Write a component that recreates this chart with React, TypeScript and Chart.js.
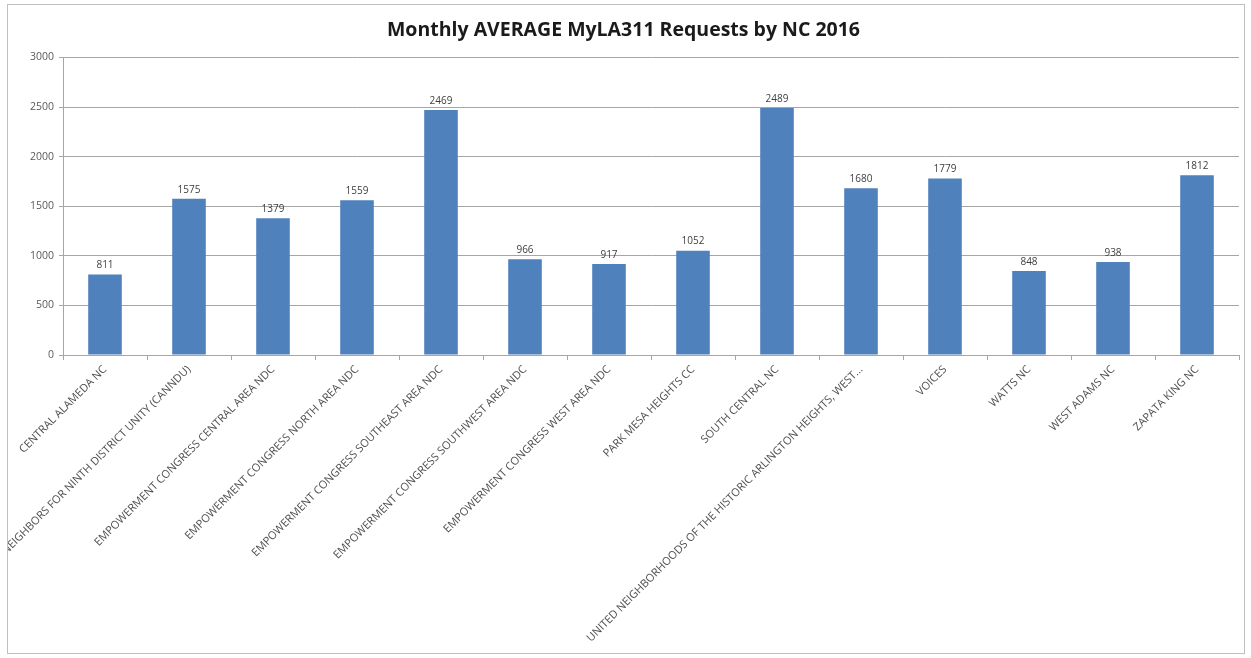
import React, { useEffect, useRef } from "react";
import { Chart, registerables } from "chart.js";

Chart.register(...registerables);

const TITLE = "Monthly AVERAGE MyLA311 Requests by NC 2016";

const categories: string[] = [
  "CENTRAL ALAMEDA NC",
  "COMMUNITY AND NEIGHBORS FOR NINTH DISTRICT UNITY (CANNDU)",
  "EMPOWERMENT CONGRESS CENTRAL AREA NDC",
  "EMPOWERMENT CONGRESS NORTH AREA NDC",
  "EMPOWERMENT CONGRESS SOUTHEAST AREA NDC",
  "EMPOWERMENT CONGRESS SOUTHWEST AREA NDC",
  "EMPOWERMENT CONGRESS WEST AREA NDC",
  "PARK MESA HEIGHTS CC",
  "SOUTH CENTRAL NC",
  "UNITED NEIGHBORHOODS OF THE HISTORIC ARLINGTON HEIGHTS, WEST...",
  "VOICES",
  "WATTS NC",
  "WEST ADAMS NC",
  "ZAPATA KING NC",
];

const averages: number[] = [811, 1575, 1379, 1559, 2469, 966, 917, 1052, 2489, 1680, 1779, 848, 938, 1812];

const yTicks: number[] = [0, 500, 1000, 1500, 2000, 2500, 3000];

const dataLabelPlugin = {
  id: "dataLabels",
  afterDatasetsDraw(chart: any) {
    const ctx = chart.ctx;
    const meta = chart.getDatasetMeta(0);
    ctx.save();
    ctx.font = "10px 'Open Sans', sans-serif";
    ctx.fillStyle = "#404040";
    ctx.textAlign = "center";
    ctx.textBaseline = "bottom";
    meta.data.forEach((bar: any, i: number) => {
      ctx.fillText(String(averages[i]), bar.x, bar.y - 4);
    });
    ctx.restore();
  },
};

export default function App() {
  const ref = useRef<HTMLCanvasElement | null>(null);

  useEffect(() => {
    if (!ref.current) return;
    const chart = new Chart(ref.current, {
      type: "bar",
      data: {
        labels: categories,
        datasets: [
          {
            data: averages,
            backgroundColor: "#4F81BD",
            borderWidth: 0,
            categoryPercentage: 1,
            barPercentage: 0.4,
          },
        ],
      },
      options: {
        responsive: false,
        maintainAspectRatio: false,
        animation: false,
        layout: { padding: { left: 0, right: 5, top: 0, bottom: 0 } },
        plugins: {
          legend: { display: false },
          tooltip: { enabled: false },
          title: {
            display: true,
            text: TITLE,
            color: "#1a1a1a",
            font: { family: "'Open Sans', sans-serif", size: 19.5, weight: "bold" },
            padding: { top: 14, bottom: 15 },
          },
        },
        scales: {
          x: {
            grid: {
              display: true,
              drawOnChartArea: false,
              drawTicks: true,
              tickLength: 5,
              color: "#a6a6a6",
              offset: true,
            },
            border: { display: true, color: "#a6a6a6" },
            ticks: {
              autoSkip: false,
              maxRotation: 45,
              minRotation: 45,
              padding: 3,
              color: "#505050",
              font: { family: "'Open Sans', sans-serif", size: 11 },
            },
            afterFit(scale: any) {
              scale.height = 298;
            },
          },
          y: {
            min: 0,
            max: 3000,
            afterBuildTicks(scale: any) {
              scale.ticks = yTicks.map((v) => ({ value: v }));
            },
            grid: {
              color: "#a6a6a6",
              tickLength: 4,
            },
            border: { display: true, color: "#a6a6a6" },
            ticks: {
              padding: 5,
              color: "#595959",
              font: { family: "'Open Sans', sans-serif", size: 10.5 },
              callback: (v: any) => String(v),
            },
            afterFit(scale: any) {
              scale.width = 55;
            },
          },
        },
      },
      plugins: [dataLabelPlugin],
    });
    return () => chart.destroy();
  }, []);

  return (
    <div
      style={{
        position: "fixed",
        left: 7,
        top: 4,
        width: 1238,
        height: 650,
        border: "1px solid #bfbfbf",
        boxSizing: "border-box",
        background: "#fff",
      }}
    >
      <canvas ref={ref} width={1236} height={648} style={{ display: "block" }} />
    </div>
  );
}
